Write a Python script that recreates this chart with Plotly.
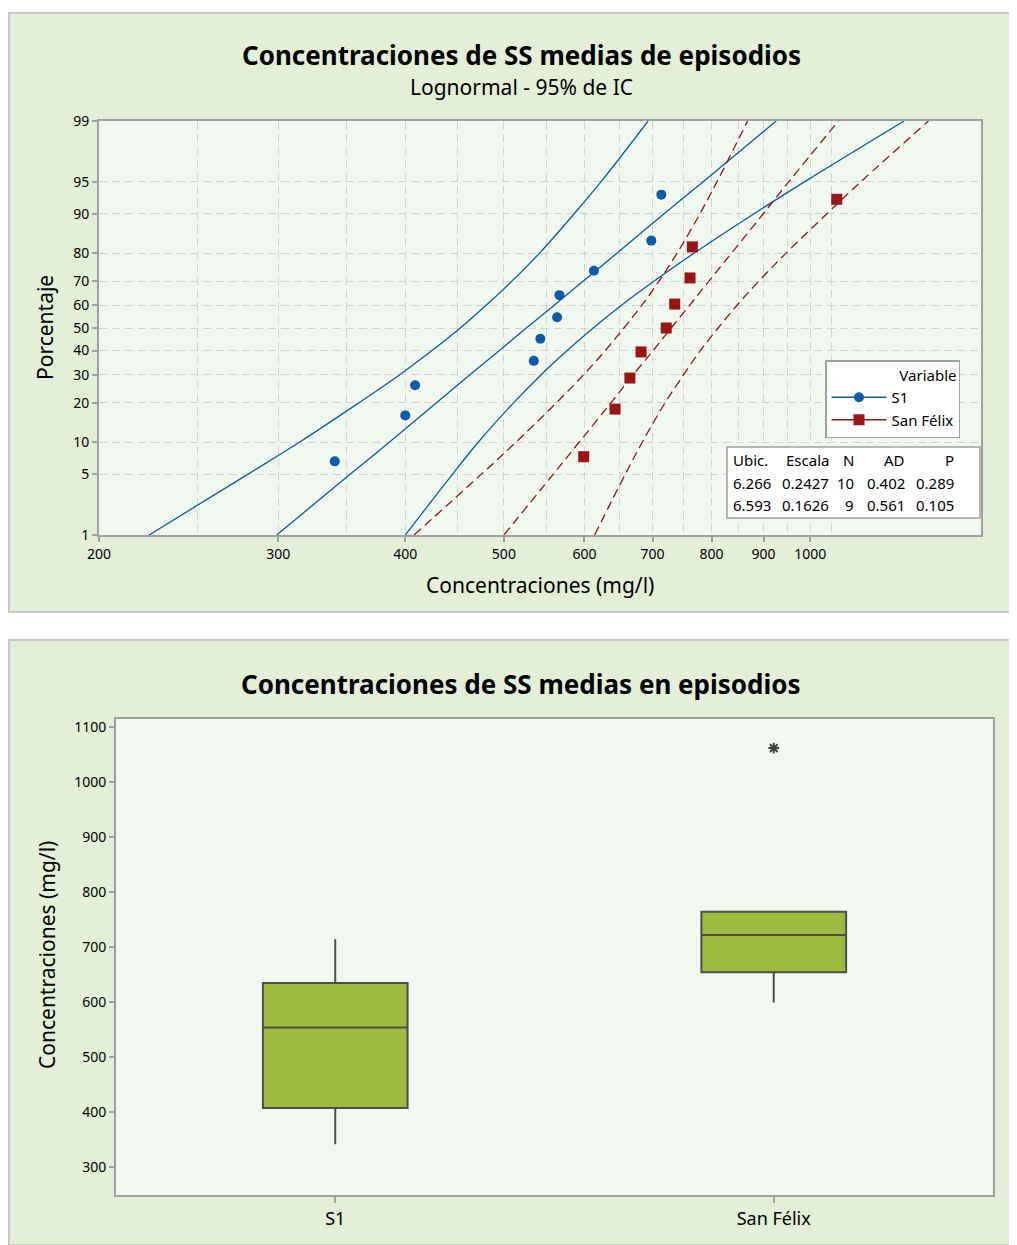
import numpy as np
import plotly.graph_objects as go
from statistics import NormalDist

# Observed data (mg/l), sorted
s1_vals = [341, 400, 409, 535, 543, 564, 567, 613, 698, 714]
sf_vals = [599, 643, 665, 682, 722, 736, 762, 766, 1062]
# Plotting positions (%)
s1_pct = [6.7, 16.3, 26.0, 35.6, 45.2, 54.8, 64.4, 74.0, 83.7, 93.3]
sf_pct = [7.4, 18.1, 28.7, 39.4, 50.0, 60.6, 71.3, 81.9, 92.6]

# Fitted line and 95% CI band, read at each probability level
pct_levels = [1, 5, 10, 20, 30, 40, 50, 60, 70, 80, 90, 95, 99]
s1_fit = [299, 353, 386, 429, 463, 495, 526, 560, 598, 646, 718, 785, 926]
s1_lo = [224, 280, 315, 360, 395, 425, 453, 480, 509, 542, 586, 623, 693]
s1_hi = [400, 445, 472, 511, 544, 577, 612, 652, 702, 769, 880, 988, 1237]
sf_fit = [500, 559, 593, 637, 670, 701, 730, 761, 795, 837, 899, 953, 1066]
sf_lo = [408, 475, 514, 563, 599, 629, 656, 683, 710, 740, 779, 810, 868]
sf_hi = [614, 658, 684, 720, 751, 780, 812, 847, 890, 947, 1038, 1122, 1307]

# Summary table
stat_header = ["Ubic.", "Escala", "N", "AD", "P"]
stat_s1 = ["6.266", "0.2427", "10", "0.402", "0.289"]
stat_sf = ["6.593", "0.1626", "9", "0.561", "0.105"]

x_ticks = [200, 300, 400, 500, 600, 700, 800, 900, 1000]
x_minor = [250, 350, 450, 550, 650, 750, 850, 950, 1050]
y_ticks = [1, 5, 10, 20, 30, 40, 50, 60, 70, 80, 90, 95, 99]

# page has an 8px body margin, so the figure is 8px smaller on each side
OFF = 8
W, H = 1017 - OFF, 1245 - OFF
FONT = "Noto Sans"
BLUE = "#0B5BA8"
RED = "#9A1515"
GRID = "#D3D3D3"
FRAME = "#A0A0A0"
PANEL = "#E3EFD7"
PLOTBG = "#F1F8F0"


def z(p):
    return [NormalDist().inv_cdf(v / 100.0) for v in p]


def px(x):
    return (x - OFF) / W


def py(y):
    return 1 - (y - OFF) / H


fig = go.Figure()

# --- probability plot ---
for lo, fit, hi, col, dash in [(s1_lo, s1_fit, s1_hi, BLUE, "solid"),
                               (sf_lo, sf_fit, sf_hi, RED, "9px,5px")]:
    for line in (lo, fit, hi):
        fig.add_trace(go.Scatter(x=line, y=z(pct_levels), mode="lines",
                                 line=dict(color=col, width=1.3, dash=dash, shape="spline"),
                                 showlegend=False, hoverinfo="skip", xaxis="x", yaxis="y"))

fig.add_trace(go.Scatter(x=s1_vals, y=z(s1_pct), mode="markers", showlegend=False,
                         marker=dict(symbol="circle", size=10, color=BLUE), xaxis="x", yaxis="y"))
fig.add_trace(go.Scatter(x=sf_vals, y=z(sf_pct), mode="markers", showlegend=False,
                         marker=dict(symbol="square", size=11, color=RED), xaxis="x", yaxis="y"))
# legend entries (line + marker)
fig.add_trace(go.Scatter(x=[None], y=[None], mode="lines+markers", name="S1",
                         marker=dict(symbol="circle", size=10, color=BLUE),
                         line=dict(color=BLUE, width=1.5), xaxis="x", yaxis="y"))
fig.add_trace(go.Scatter(x=[None], y=[None], mode="lines+markers", name="San Félix",
                         marker=dict(symbol="square", size=11, color=RED),
                         line=dict(color=RED, width=1.5), xaxis="x", yaxis="y"))

# --- box plot ---
box_cats = ["S1", "San Félix"]
out_x, out_y = [], []
for cat, vals in zip(box_cats, [s1_vals, sf_vals]):
    arr = np.array(vals, dtype=float)
    q1, med, q3 = np.percentile(arr, [25, 50, 75], method="weibull")
    iqr = q3 - q1
    inside = arr[(arr >= q1 - 1.5 * iqr) & (arr <= q3 + 1.5 * iqr)]
    for v in arr[(arr < q1 - 1.5 * iqr) | (arr > q3 + 1.5 * iqr)]:
        out_x.append(cat)
        out_y.append(v)
    fig.add_trace(go.Box(x=[cat], q1=[q1], median=[med], q3=[q3],
                         lowerfence=[inside.min()], upperfence=[inside.max()],
                         width=0.33, whiskerwidth=0, fillcolor="#9DBB3E",
                         line=dict(color="#4D4D4D", width=2), showlegend=False,
                         boxpoints=False, xaxis="x2", yaxis="y2"))
fig.add_trace(go.Scatter(x=out_x, y=out_y, mode="markers", showlegend=False,
                         marker=dict(symbol="asterisk-open", size=9, color="#404040",
                                     line=dict(color="#404040", width=2)),
                         xaxis="x2", yaxis="y2"))

# panel backgrounds and plot-area fills
shapes = [
    dict(type="rect", xref="paper", yref="paper", x0=px(9), x1=1, y0=py(612), y1=py(13),
         fillcolor=PANEL, line=dict(color="#C8C8C8", width=2), layer="below"),
    dict(type="rect", xref="paper", yref="paper", x0=px(9), x1=1, y0=0, y1=py(640),
         fillcolor=PANEL, line=dict(color="#C8C8C8", width=2), layer="below"),
    dict(type="rect", xref="x domain", yref="y domain", x0=0, x1=1, y0=0, y1=1,
         fillcolor=PLOTBG, line=dict(width=0), layer="below"),
    dict(type="rect", xref="x2 domain", yref="y2 domain", x0=0, x1=1, y0=0, y1=1,
         fillcolor=PLOTBG, line=dict(width=0), layer="below"),
    dict(type="rect", xref="paper", yref="paper", x0=px(727), x1=px(980), y0=py(518), y1=py(447),
         fillcolor="white", line=dict(color=FRAME, width=1.5), layer="above"),
]

ann = [
    dict(text="<b>Concentraciones de SS medias de episodios</b>", x=px(521), y=py(55),
         font=dict(size=26, color="black")),
    dict(text="Lognormal - 95% de IC", x=px(521), y=py(87), font=dict(size=21, color="black")),
    dict(text="Concentraciones (mg/l)", x=px(540), y=py(585), font=dict(size=21, color="black")),
    dict(text="Porcentaje", x=px(45), y=py(328), textangle=-90, font=dict(size=21, color="black")),
    dict(text="<b>Concentraciones de SS medias en episodios</b>", x=px(521), y=py(684),
         font=dict(size=26, color="black")),
    dict(text="Concentraciones (mg/l)", x=px(47), y=py(955), textangle=-90,
         font=dict(size=21, color="black")),
]
for a in ann:
    a.update(xref="paper", yref="paper", showarrow=False, xanchor="center", yanchor="middle")

col_x = [731, 831, 856, 907, 956]
for i, rows in enumerate(zip(stat_header, stat_s1, stat_sf)):
    for r, txt in enumerate(rows):
        ann.append(dict(text=txt, x=px(col_x[i]), y=py(460 + 22.5 * r), xref="paper", yref="paper",
                        showarrow=False, xanchor="left" if i == 0 else "right", yanchor="middle",
                        font=dict(size=15, color="black")))

fig.update_layout(
    width=W, height=H, margin=dict(l=0, r=0, t=0, b=0, autoexpand=False),
    paper_bgcolor="white", plot_bgcolor=PLOTBG,
    font=dict(family=FONT, size=14, color="black"),
    shapes=shapes, annotations=ann,
    legend=dict(x=px(960), y=py(360), xanchor="right", yanchor="top",
                bgcolor="white", bordercolor=FRAME, borderwidth=1.5,
                font=dict(size=15, color="black"), itemwidth=55, tracegroupgap=0,
                title=dict(text="Variable", side="top right", font=dict(size=15, color="black"))),
    xaxis=dict(type="log", domain=[px(99), px(981)],
               range=[np.log10(200), np.log10(1472)],
               tickmode="array", tickvals=x_ticks, ticktext=[str(v) for v in x_ticks],
               ticks="outside", ticklen=5, tickcolor=FRAME, tickwidth=1.5,
               showgrid=True, gridcolor=GRID, griddash="8px,5px", gridwidth=1,
               minor=dict(tickmode="array", tickvals=x_minor, showgrid=True, gridcolor=GRID,
                          griddash="8px,5px", ticks=""),
               showline=True, linecolor=FRAME, linewidth=2, mirror=True, zeroline=False,
               anchor="y", tickfont=dict(size=14)),
    yaxis=dict(domain=[py(535), py(121)], range=[z([1])[0], z([99])[0]],
               tickmode="array", tickvals=z(y_ticks), ticktext=[str(v) for v in y_ticks],
               ticks="outside", ticklen=5, tickcolor=FRAME, tickwidth=1.5,
               showgrid=True, gridcolor=GRID, griddash="8px,5px", gridwidth=1,
               showline=True, linecolor=FRAME, linewidth=2, mirror=True, zeroline=False,
               anchor="x", tickfont=dict(size=14)),
    xaxis2=dict(domain=[px(116), px(993)], type="category", range=[-0.5, 1.5],
                ticks="outside", ticklen=6, tickcolor=FRAME, tickwidth=1.5,
                showline=True, linecolor=FRAME, linewidth=2, mirror=True, showgrid=False,
                anchor="y2", tickfont=dict(size=18, color="black")),
    yaxis2=dict(domain=[py(1195), py(719)], range=[248.5, 1115],
                tickmode="array", tickvals=[300, 400, 500, 600, 700, 800, 900, 1000, 1100],
                ticks="outside", ticklen=5, tickcolor=FRAME, tickwidth=1.5,
                showline=True, linecolor=FRAME, linewidth=2, mirror=True, showgrid=False,
                zeroline=False, anchor="x2", tickfont=dict(size=14)),
)

fig.write_html("out.html")
